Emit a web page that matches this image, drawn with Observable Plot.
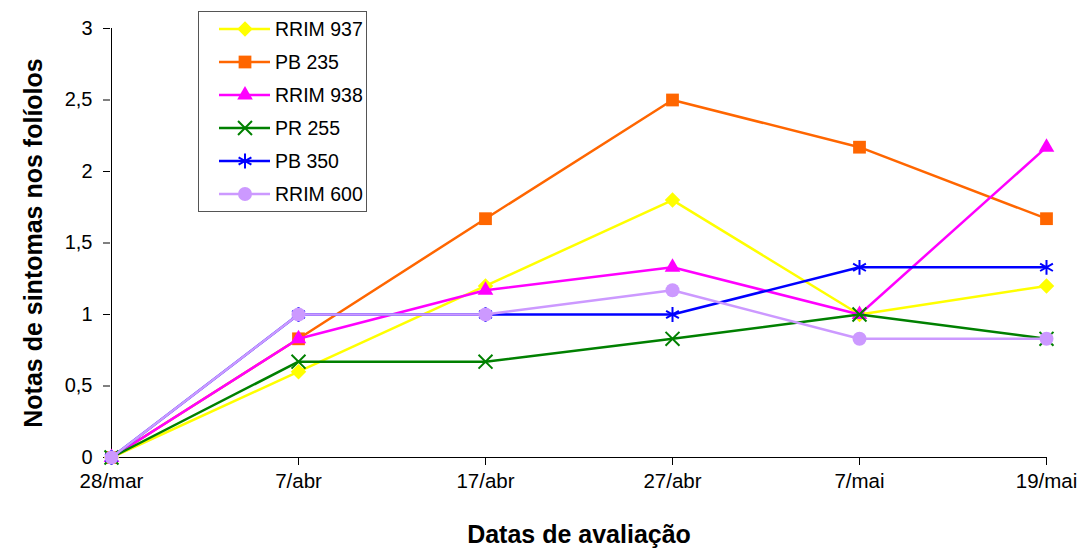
<!DOCTYPE html>
<html><head><meta charset="utf-8">
<script src="https://cdn.jsdelivr.net/npm/d3@7"></script>
<script src="https://cdn.jsdelivr.net/npm/@observablehq/plot@0.6"></script>
<style>
body{margin:0;background:#fff;}
#chart{position:relative;width:1082px;height:549px;}
svg{font-family:"Liberation Sans",Arial,sans-serif;}
</style></head><body><div id="chart"></div>
<script>
const dates = ["28/mar","7/abr","17/abr","27/abr","7/mai","19/mai"];
const seriesNames = ["RRIM 937","PB 235","RRIM 938","PR 255","PB 350","RRIM 600"];
const rrim937 = [0,0.6,1.2,1.8,1.0,1.2];
const pb235 = [0,0.83,1.67,2.5,2.17,1.67];
const rrim938 = [0,0.83,1.17,1.33,1.0,2.17];
const pr255 = [0,0.67,0.67,0.83,1.0,0.83];
const pb350 = [0,1.0,1.0,1.0,1.33,1.33];
const rrim600 = [0,1.0,1.0,1.17,0.83,0.83];
const yTicks = [0,0.5,1,1.5,2,2.5,3];

const values = [rrim937,pb235,rrim938,pr255,pb350,rrim600];
const colors = ["#FFFF00","#FF6600","#FF00FF","#008000","#0000FF","#CC99FF"];
const symbols = ["diamond2","square","triangle","times","asterisk","circle"];
const filled = [true,true,true,false,false,true];
const radius = [7,7.2,5.8,6.4,7,7];

const marks = [];
values.forEach((vals,i)=>{
  const data = dates.map((d,j)=>({date:d,value:vals[j]}));
  marks.push(Plot.line(data,{x:"date",y:"value",stroke:colors[i],strokeWidth:2.5}));
  marks.push(Plot.dot(data,{x:"date",y:"value",symbol:()=>symbols[i],r:radius[i],
    fill: filled[i]?colors[i]:"none", stroke: filled[i]?"none":colors[i], strokeWidth:2}));
});

const fmt = v => String(v).replace(".",",");
const plot = Plot.plot({
  width:1082, height:549,
  marginLeft:110, marginRight:35, marginTop:28, marginBottom:92,
  style:{fontFamily:"Liberation Sans, Arial, sans-serif", fontSize:"20px", color:"#000", background:"#fff"},
  x:{type:"point", domain:dates, padding:0},
  y:{domain:[0,3]},
  symbol:{type:"identity"},
  marks:[
    Plot.ruleX([dates[0]]),
    Plot.ruleY([0]),
    Plot.axisY(yTicks,{tickFormat:fmt, tickSize:7, tickPadding:11, fontSize:20, label:null}),
    Plot.axisX(dates.slice(1),{tickSize:8, tickPadding:8, fontSize:20.5, label:null}),
    Plot.axisX([dates[0]],{tickSize:0, tickPadding:16, fontSize:20.5, label:null}),
    ...marks,
    Plot.text(["Notas de sintomas nos folíolos"],{frameAnchor:"left",dx:-77,rotate:-90,textAnchor:"middle",lineAnchor:"middle",fontSize:25,fontWeight:"bold"}),
    Plot.text(["Datas de avaliação"],{frameAnchor:"bottom",dy:77,lineAnchor:"middle",fontSize:25,fontWeight:"bold"})
  ]
});
document.getElementById("chart").appendChild(plot);

// legend
const svg = d3.select(plot);
const lg = svg.append("g");
lg.append("rect").attr("x",198.5).attr("y",11.5).attr("width",168).attr("height",200)
  .attr("fill","#fff").attr("stroke","#555").attr("stroke-width",1);
const symMap = {diamond2:d3.symbolDiamond2, square:d3.symbolSquare, triangle:d3.symbolTriangle, times:d3.symbolTimes, asterisk:d3.symbolAsterisk, circle:d3.symbolCircle};
seriesNames.forEach((name,i)=>{
  const y = 29 + i*33;
  lg.append("line").attr("x1",219).attr("x2",270).attr("y1",y).attr("y2",y).attr("stroke",colors[i]).attr("stroke-width",2.5);
  lg.append("path").attr("transform",`translate(245,${y})`)
    .attr("d",d3.symbol(symMap[symbols[i]], radius[i]*radius[i]*Math.PI)())
    .attr("fill",filled[i]?colors[i]:"none").attr("stroke",filled[i]?"none":colors[i]).attr("stroke-width",2);
  lg.append("text").attr("x",275).attr("y",y).attr("dy","0.35em").attr("font-size",19.5)
    .attr("text-anchor","start")
    .attr("font-family","Liberation Sans, Arial, sans-serif").text(name);
});
</script></body></html>
